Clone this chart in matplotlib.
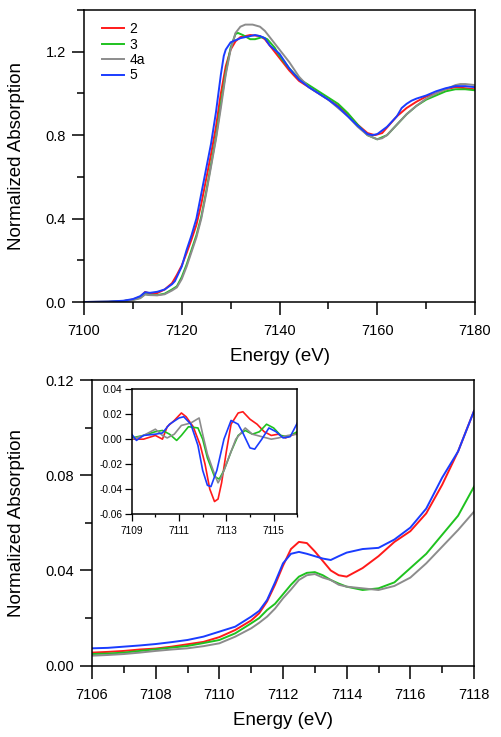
import matplotlib.pyplot as plt
from matplotlib.ticker import MultipleLocator, FixedLocator

plt.rcParams["font.family"] = ["Liberation Sans", "DejaVu Sans"]

labels = ["2", "3", "4a", "5"]
colors = ["#ff1a1a", "#1fc21f", "#8c8c8c", "#1a3cff"]

# ---- full edge (top panel) ----
e_top_2 = [7100, 7105, 7108, 7110, 7111.5, 7112.5, 7113.5, 7115, 7116.5, 7118, 7119, 7120, 7121, 7122,
           7123, 7124, 7125, 7126, 7127, 7128, 7129, 7130, 7131, 7132, 7134, 7136, 7137, 7138, 7139,
           7140, 7141, 7142, 7144, 7146, 7148, 7150, 7152, 7154, 7156, 7158, 7159.5, 7161, 7162.5,
           7164, 7166, 7168, 7170, 7172, 7174, 7176, 7178, 7180]
a_top_2 = [0, 0.001, 0.004, 0.012, 0.025, 0.048, 0.040, 0.043, 0.060, 0.09, 0.13, 0.175, 0.235, 0.30,
           0.37, 0.47, 0.59, 0.71, 0.84, 1.0, 1.13, 1.21, 1.25, 1.27, 1.28, 1.275, 1.26, 1.23, 1.20,
           1.17, 1.14, 1.11, 1.06, 1.03, 1.0, 0.97, 0.94, 0.90, 0.85, 0.81, 0.80, 0.81, 0.85,
           0.89, 0.93, 0.96, 0.985, 1.0, 1.02, 1.03, 1.025, 1.02]

e_top_3 = [7100, 7105, 7108, 7110, 7111.5, 7112.5, 7113.5, 7115, 7116.5, 7118, 7119, 7120, 7121, 7122,
           7123, 7124, 7125, 7126, 7127, 7128, 7129, 7130, 7131, 7131.5, 7132.5, 7134, 7135, 7136.5,
           7137.5, 7139, 7140, 7142, 7144, 7146, 7148, 7150, 7152, 7154, 7156, 7158, 7160, 7162,
           7164, 7166, 7168, 7170, 7172, 7174, 7176, 7178, 7180]
a_top_3 = [0, 0.001, 0.004, 0.011, 0.020, 0.038, 0.034, 0.033, 0.040, 0.06, 0.075, 0.12, 0.18, 0.25,
           0.32, 0.41, 0.53, 0.66, 0.79, 0.95, 1.10, 1.22, 1.285, 1.29, 1.28, 1.26, 1.26, 1.27,
           1.26, 1.22, 1.18, 1.12, 1.07, 1.04, 1.01, 0.98, 0.95, 0.905, 0.85, 0.80, 0.78, 0.80,
           0.85, 0.90, 0.94, 0.97, 0.99, 1.01, 1.02, 1.02, 1.015]

e_top_4a = [7100, 7105, 7108, 7110, 7111.5, 7112.5, 7113.5, 7115, 7116.5, 7118, 7119, 7120, 7121, 7122,
            7123, 7124, 7125, 7126, 7127, 7128, 7129, 7130, 7131, 7132, 7133, 7134.5, 7136, 7137,
            7138, 7139, 7140, 7142, 7144, 7146, 7148, 7150, 7152, 7154, 7156, 7158, 7160, 7161,
            7162, 7164, 7166, 7168, 7170, 7172, 7174, 7176, 7177, 7178, 7180]
a_top_4a = [0, 0.001, 0.004, 0.009, 0.018, 0.036, 0.033, 0.032, 0.037, 0.055, 0.07, 0.11, 0.17, 0.24,
            0.31, 0.40, 0.52, 0.65, 0.78, 0.93, 1.09, 1.21, 1.29, 1.32, 1.33, 1.33, 1.32, 1.30,
            1.27, 1.24, 1.21, 1.15, 1.08, 1.03, 1.0, 0.97, 0.93, 0.89, 0.84, 0.80, 0.78, 0.785,
            0.80, 0.85, 0.90, 0.94, 0.975, 1.0, 1.02, 1.04, 1.045, 1.045, 1.04]

e_top_5 = [7100, 7105, 7108, 7110, 7111.5, 7112.5, 7113.5, 7115, 7116.5, 7118, 7118.6, 7120, 7121,
           7122, 7123, 7124, 7125, 7126, 7127, 7128, 7128.6, 7129, 7130, 7131, 7132, 7134, 7135,
           7136, 7137, 7138, 7140, 7142, 7144, 7146, 7148, 7150, 7152, 7154, 7156, 7158, 7159,
           7160, 7162, 7164, 7165, 7166, 7167, 7168, 7170, 7172, 7174, 7176, 7178, 7180]
a_top_5 = [0, 0.002, 0.006, 0.014, 0.028, 0.047, 0.044, 0.049, 0.060, 0.085, 0.10, 0.17, 0.25,
           0.32, 0.40, 0.52, 0.64, 0.76, 0.91, 1.09, 1.18, 1.21, 1.245, 1.255, 1.265, 1.275, 1.28,
           1.275, 1.265, 1.23, 1.19, 1.12, 1.066, 1.03, 1.0, 0.97, 0.935, 0.89, 0.845, 0.805, 0.80,
           0.805, 0.84, 0.89, 0.93, 0.95, 0.965, 0.975, 0.99, 1.01, 1.025, 1.035, 1.035, 1.03]

# ---- pre-edge (bottom panel) ----
e_pre = [7106, 7106.5, 7107, 7107.5, 7108, 7108.5, 7109, 7109.5, 7110, 7110.5, 7111, 7111.25,
         7111.5, 7111.75, 7112, 7112.25, 7112.5, 7112.75, 7113, 7113.25, 7113.5, 7113.75, 7114,
         7114.5, 7115, 7115.5, 7116, 7116.5, 7117, 7117.5, 7118]
a_pre_2 = [0.0055, 0.0058, 0.0062, 0.0068, 0.0072, 0.0080, 0.0090, 0.0100, 0.0120, 0.0150, 0.0190,
           0.0220, 0.0270, 0.0340, 0.0420, 0.0490, 0.0520, 0.0515, 0.0480, 0.0440, 0.0400, 0.0380,
           0.0374, 0.0410, 0.0460, 0.0520, 0.0565, 0.0640, 0.0760, 0.0900, 0.1070]
a_pre_3 = [0.0049, 0.0051, 0.0055, 0.0062, 0.0069, 0.0076, 0.0083, 0.0095, 0.0108, 0.0136, 0.0178,
           0.0200, 0.0234, 0.0260, 0.0300, 0.0340, 0.0374, 0.0390, 0.0393, 0.0380, 0.0360, 0.0345,
           0.0332, 0.0318, 0.0325, 0.0350, 0.0410, 0.0470, 0.0550, 0.0630, 0.0752]
a_pre_4a = [0.0042, 0.0045, 0.0049, 0.0055, 0.0062, 0.0068, 0.0073, 0.0082, 0.0094, 0.0122, 0.0157,
            0.0180, 0.0206, 0.0240, 0.0283, 0.0320, 0.0360, 0.0380, 0.0385, 0.0370, 0.0360, 0.0340,
            0.0332, 0.0325, 0.0318, 0.0335, 0.0370, 0.0430, 0.0500, 0.0570, 0.0647]
a_pre_5 = [0.0073, 0.0075, 0.0080, 0.0085, 0.0091, 0.0099, 0.0108, 0.0122, 0.0143, 0.0164, 0.0206,
           0.0230, 0.0276, 0.0350, 0.0430, 0.0470, 0.0478, 0.0470, 0.0460, 0.0450, 0.0444, 0.0460,
           0.0475, 0.0490, 0.0495, 0.0530, 0.0580, 0.0660, 0.0790, 0.0900, 0.1070]

# ---- derivative (inset) ----
e_d_2 = [7109, 7109.5, 7110, 7110.3, 7110.5, 7110.8, 7111.1, 7111.3, 7111.6, 7111.9, 7112.1, 7112.3,
         7112.5, 7112.65, 7112.8, 7113, 7113.2, 7113.5, 7113.7, 7114, 7114.3, 7114.6, 7114.9, 7115.2,
         7115.5, 7116]
d_2 = [0.0, 0.0, 0.003, 0.0, 0.010, 0.015, 0.021, 0.018, 0.010, -0.005, -0.020, -0.040,
       -0.050, -0.048, -0.035, -0.010, 0.012, 0.021, 0.022, 0.016, 0.012, 0.006, 0.003, 0.004,
       0.001, 0.005]
e_d_3 = [7109, 7109.5, 7110, 7110.3, 7110.6, 7110.9, 7111.1, 7111.4, 7111.8, 7112.0, 7112.2, 7112.5,
         7112.7, 7112.9, 7113.2, 7113.5, 7113.8, 7114.1, 7114.4, 7114.7, 7115, 7115.3, 7115.6, 7116]
d_3 = [0.001, 0.003, 0.006, 0.007, 0.004, -0.001, 0.003, 0.010, 0.009, 0.0, -0.015, -0.030,
       -0.032, -0.025, -0.010, 0.003, 0.007, 0.004, 0.006, 0.012, 0.009, 0.003, 0.002, 0.006]
e_d_4a = [7109, 7109.5, 7110, 7110.3, 7110.5, 7110.8, 7111.1, 7111.5, 7111.85, 7112.0, 7112.2, 7112.5,
          7112.65, 7112.8, 7113.1, 7113.4, 7113.8, 7114.1, 7114.5, 7114.9, 7115.2, 7115.6, 7116]
d_4a = [0.0, 0.003, 0.008, 0.003, 0.001, 0.004, 0.011, 0.013, 0.017, 0.004, -0.012, -0.028,
        -0.035, -0.030, -0.015, 0.0, 0.009, 0.004, 0.002, 0.0, 0.001, 0.003, 0.004]
e_d_5 = [7109, 7109.2, 7109.5, 7110, 7110.3, 7110.6, 7111, 7111.2, 7111.5, 7111.8, 7112, 7112.2,
         7112.35, 7112.6, 7112.9, 7113.2, 7113.5, 7113.7, 7114, 7114.2, 7114.5, 7114.8, 7115.1,
         7115.4, 7115.7, 7116]
d_5 = [0.004, -0.001, 0.003, 0.004, 0.005, 0.012, 0.017, 0.018, 0.012, -0.005, -0.025, -0.037,
       -0.038, -0.025, 0.0, 0.015, 0.012, 0.005, -0.007, -0.008, 0.0, 0.009, 0.006, 0.001, 0.002,
       0.013]
inset_ticks = [7109, 7111, 7113, 7115]

top_series = [(e_top_2, a_top_2), (e_top_3, a_top_3), (e_top_4a, a_top_4a), (e_top_5, a_top_5)]
pre_series = [a_pre_2, a_pre_3, a_pre_4a, a_pre_5]
der_series = [(e_d_2, d_2), (e_d_3, d_3), (e_d_4a, d_4a), (e_d_5, d_5)]

W, H = 501, 737
fig = plt.figure(figsize=(W / 100, H / 100), dpi=100)


def style(ax, big=True):
    for s in ax.spines.values():
        s.set_linewidth(1.1)
    if big:
        ax.tick_params(which="major", direction="out", length=9, width=1.1, labelsize=10.5, pad=4)
        ax.tick_params(which="minor", direction="out", length=5, width=1.1)
    else:
        ax.tick_params(which="major", direction="out", length=4.8, width=0.9, labelsize=7.3, pad=2)
        ax.tick_params(which="minor", direction="out", length=2.2, width=0.9)
    ax.tick_params(top=False, right=False, which="both")


# top panel
ax1 = fig.add_axes([84 / W, 1 - 302 / H, 391 / W, 292 / H])
for (e, a), c, lab in zip(top_series, colors, labels):
    ax1.plot(e, a, color=c, lw=1.4, label=lab)
ax1.set_xlim(7100, 7180)
ax1.set_ylim(0, 1.4)
ax1.xaxis.set_major_locator(MultipleLocator(20))
ax1.xaxis.set_minor_locator(MultipleLocator(10))
ax1.yaxis.set_major_locator(MultipleLocator(0.4))
ax1.yaxis.set_minor_locator(MultipleLocator(0.2))
ax1.yaxis.set_major_formatter(lambda v, p: f"{v:.1f}")
style(ax1)
ax1.tick_params(axis="x", pad=7)
ax1.set_xlabel("Energy (eV)", fontsize=13.5, labelpad=7)
ax1.set_ylabel("Normalized Absorption", fontsize=13.5)
ax1.yaxis.set_label_coords(-0.151, 0.5)
ax1.legend(loc="upper left", bbox_to_anchor=(0.045, 0.958), frameon=False, fontsize=10,
           handlelength=1.6, handletextpad=0.4, labelspacing=0.1, borderpad=0, borderaxespad=0)

# bottom panel
ax2 = fig.add_axes([92 / W, 1 - 665.7 / H, 382 / W, 285.7 / H])
for a, c in zip(pre_series, colors):
    ax2.plot(e_pre, a, color=c, lw=1.4)
ax2.set_xlim(7106, 7118)
ax2.set_ylim(0, 0.12)
ax2.xaxis.set_major_locator(MultipleLocator(2))
ax2.xaxis.set_minor_locator(MultipleLocator(1))
ax2.yaxis.set_major_locator(MultipleLocator(0.04))
ax2.yaxis.set_minor_locator(MultipleLocator(0.02))
ax2.yaxis.set_major_formatter(lambda v, p: f"{v:.2f}")
style(ax2)
ax2.tick_params(axis="x", pad=7)
ax2.set_xlabel("Energy (eV)", fontsize=13.5, labelpad=7)
ax2.set_ylabel("Normalized Absorption", fontsize=13.5)
ax2.yaxis.set_label_coords(-0.175, 0.5)

# inset
ax3 = fig.add_axes([131.7 / W, 1 - 514 / H, 165.6 / W, 124.7 / H])
for (e, d), c in zip(der_series, colors):
    ax3.plot(e, d, color=c, lw=1.2)
ax3.set_xlim(7109, 7116)
ax3.set_ylim(-0.06, 0.04)
ax3.xaxis.set_major_locator(FixedLocator(inset_ticks))
ax3.xaxis.set_minor_locator(MultipleLocator(1))
ax3.yaxis.set_major_locator(MultipleLocator(0.02))
ax3.yaxis.set_major_formatter(lambda v, p: f"{v:.2f}")
style(ax3, big=False)
ax3.tick_params(axis="x", pad=4)

fig.savefig("out.png", dpi=100)
